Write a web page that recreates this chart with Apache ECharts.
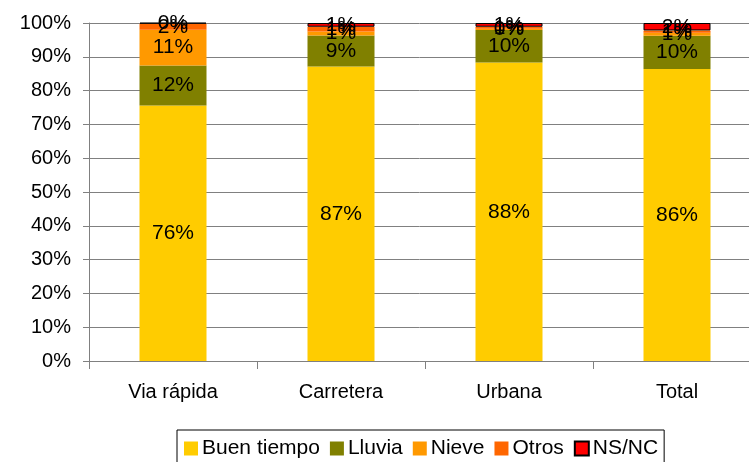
<!DOCTYPE html>
<html lang="es">
<head>
    <meta charset="UTF-8">
    <title>Condiciones climatológicas</title>
    <script src="https://cdn.jsdelivr.net/npm/echarts@6.0.0/dist/echarts.min.js"></script>
    <style>
        html, body { margin: 0; padding: 0; background: #fff; }
    </style>
</head>
<body>
    <div id="echart" style="width: 749px; height: 462px;"></div>
<script>
    // datos (porcentaje de cada tipo en cada vía)
    const categories = ['Via rápida', 'Carretera', 'Urbana', 'Total'];
    const buenTiempo = [75.6, 87.1, 88.3, 86.4];
    const lluvia     = [11.8, 9.2, 9.6, 9.8];
    const nieve      = [10.6, 1.2, 0.4, 0.9];
    const otros      = [1.8, 1.4, 0.6, 0.7];
    const nsnc       = [0.3, 1.1, 1.1, 2.2];
    const yTicks     = [0, 10, 20, 30, 40, 50, 60, 70, 80, 90, 100];

    const font = 'Liberation Sans, Arial, sans-serif';

    function serie(name, data, color, border) {
        return {
            name: name,
            type: 'bar',
            stack: 'total',
            data: data,
            barWidth: 67,
            itemStyle: {
                color: color,
                borderColor: border ? '#000' : color,
                borderWidth: border ? 1 : 0
            },
            label: {
                show: true,
                position: 'inside',
                color: '#000',
                fontFamily: font,
                fontSize: 21,
                formatter: p => Math.round(p.value) + '%'
            },
            emphasis: { disabled: true }
        };
    }

    const myChart = echarts.init(document.getElementById('echart'));
    myChart.setOption({
        animation: false,
        grid: { left: 89, top: 23, right: -12, bottom: 101, outerBoundsMode: 'none' },
        legend: {
            top: 430,
            left: 177,
            padding: [8, 6, 12, 7],
            borderColor: '#000',
            borderWidth: 1,
            itemWidth: 14,
            itemHeight: 14,
            itemGap: 10,
            icon: 'rect',
            textStyle: { fontFamily: font, fontSize: 21, color: '#000', padding: [0, 0, 0, -1] },
            data: ['Buen tiempo', 'Lluvia', 'Nieve', 'Otros', 'NS/NC']
        },
        xAxis: {
            type: 'category',
            data: categories,
            axisLine: { lineStyle: { color: '#808080', width: 1 } },
            axisTick: { show: true, alignWithLabel: false, length: 8, lineStyle: { color: '#808080' } },
            axisLabel: { fontFamily: font, fontSize: 20, color: '#000', margin: 21 }
        },
        yAxis: {
            type: 'value',
            min: yTicks[0],
            max: yTicks[yTicks.length - 1],
            interval: 10,
            axisLine: { show: true, lineStyle: { color: '#808080', width: 1 } },
            axisTick: { show: true, length: 6, lineStyle: { color: '#808080' } },
            axisLabel: { fontFamily: font, fontSize: 20, color: '#000', margin: 18, formatter: '{value}%' },
            splitLine: { show: true, lineStyle: { color: '#808080', width: 1 } }
        },
        series: [
            serie('Buen tiempo', buenTiempo, '#FFCC00'),
            serie('Lluvia', lluvia, '#808000'),
            serie('Nieve', nieve, '#FF9900'),
            serie('Otros', otros, '#FF6600'),
            serie('NS/NC', nsnc, '#FF0000', true)
        ]
    });
</script>
</body>
</html>
